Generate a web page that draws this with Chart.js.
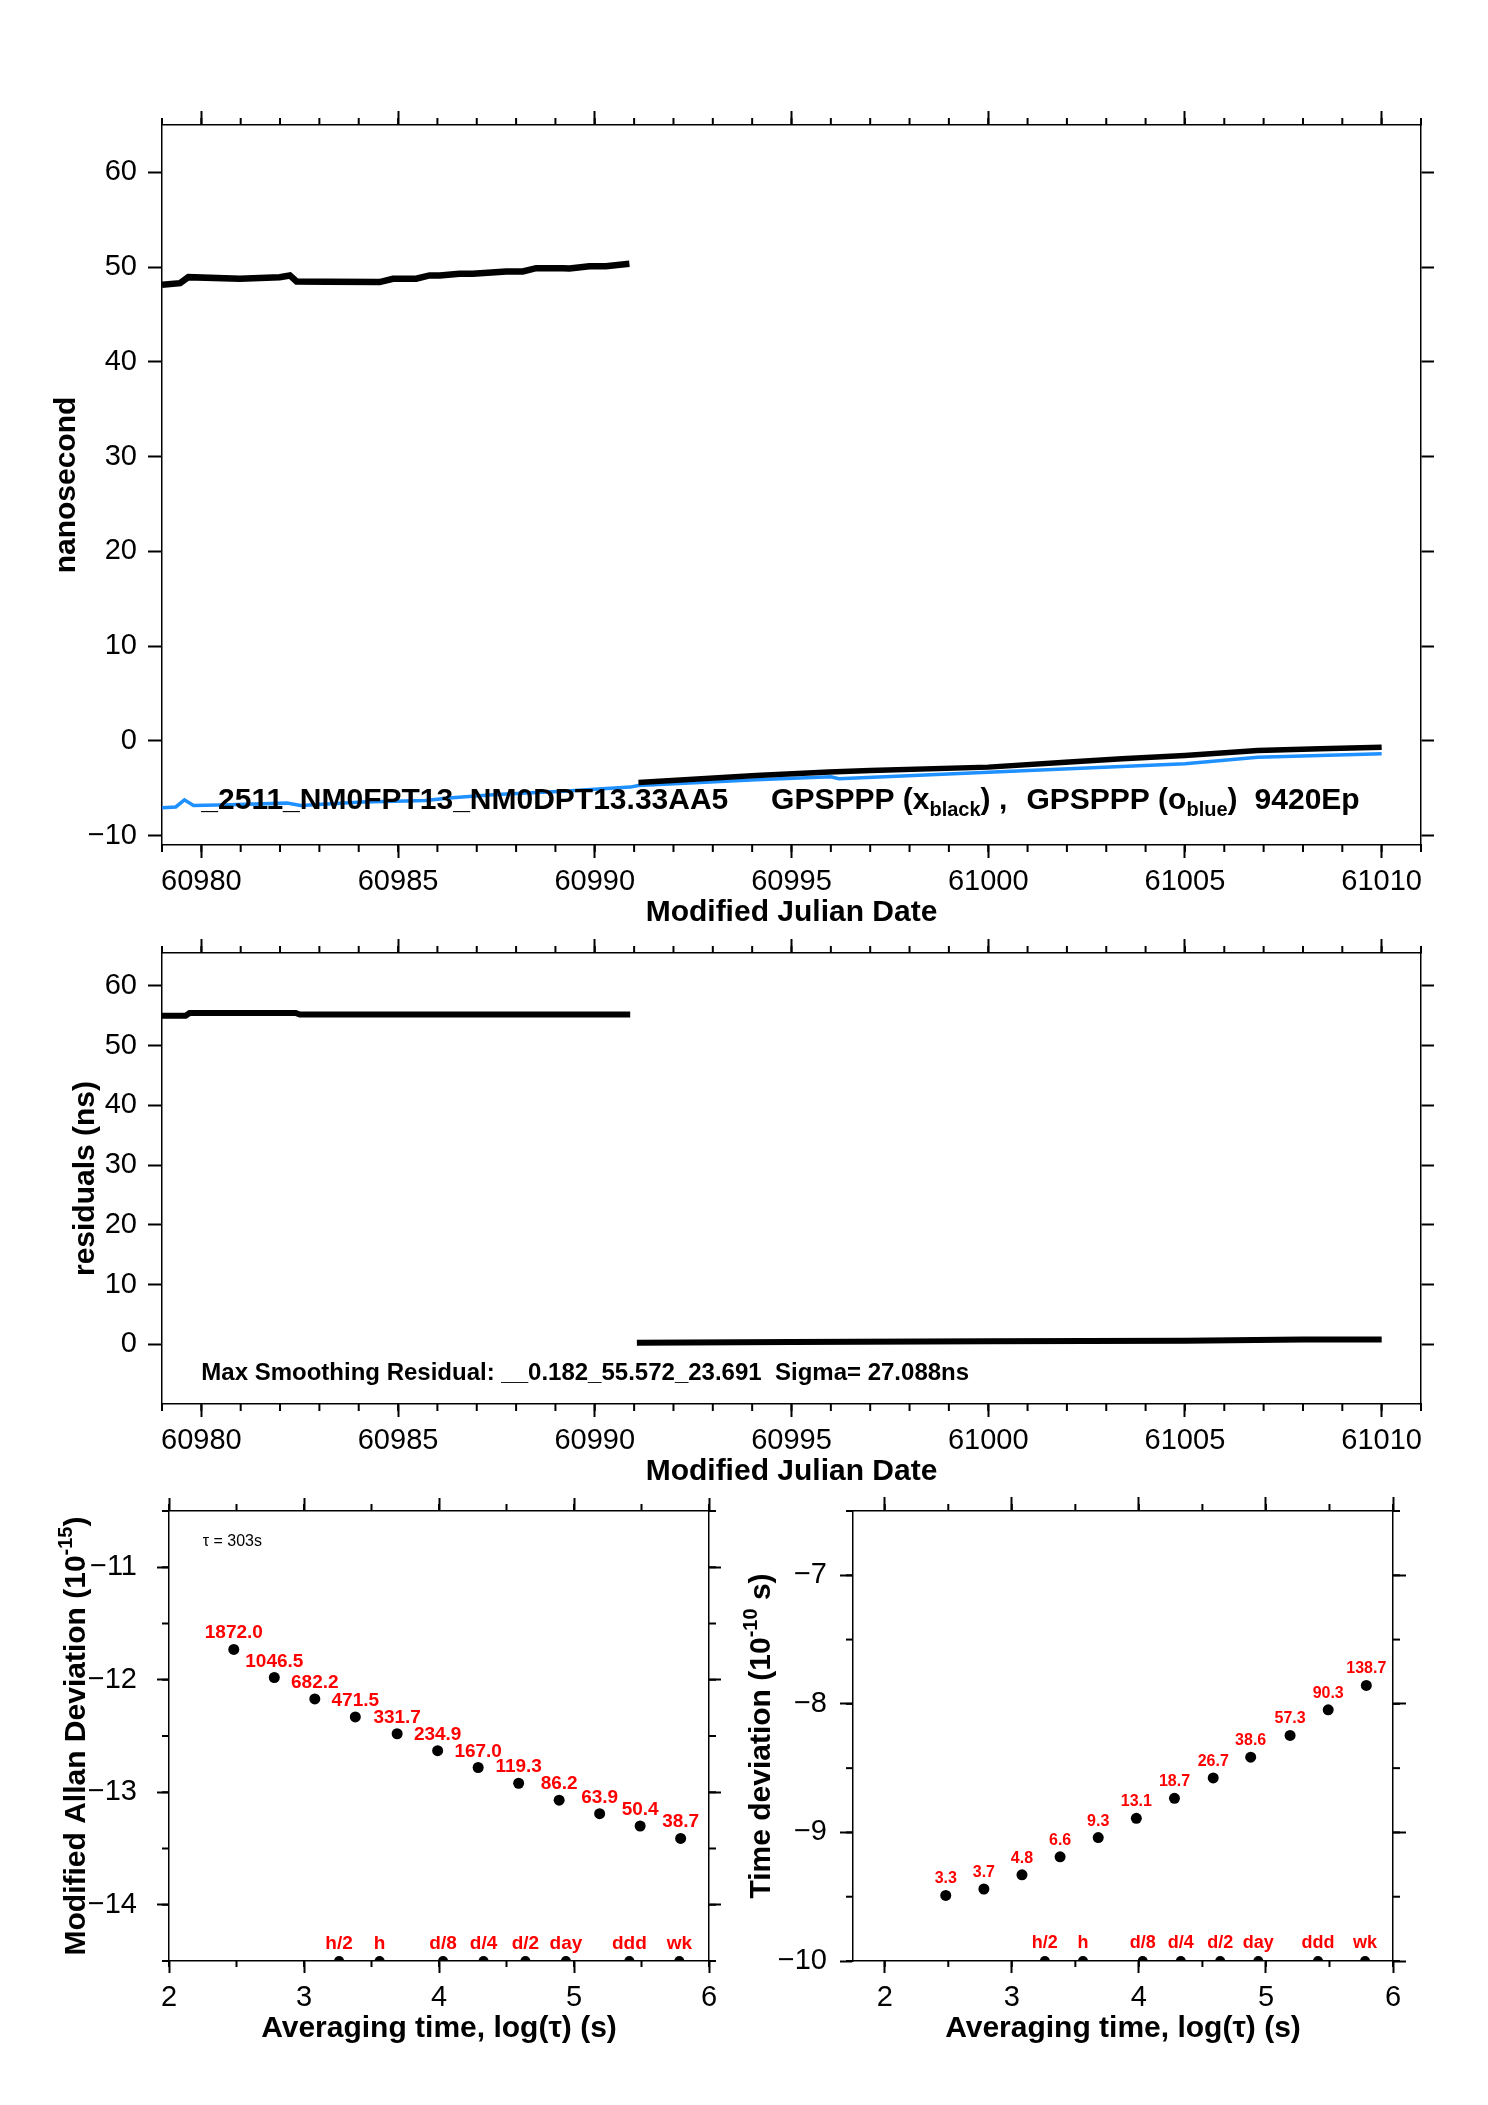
<!DOCTYPE html>
<html>
<head>
<meta charset="utf-8">
<title>GPSPPP 9420Ep</title>
<script src="https://cdn.jsdelivr.net/npm/chart.js@4.4.1/dist/chart.umd.min.js"></script>
<style>
  html, body { margin: 0; padding: 0; background: #fff; }
  #page { position: relative; width: 1488px; height: 2105px; background: #fff; }
  canvas { position: absolute; }
</style>
</head>
<body>
<div id="page">
  <canvas id="phase" width="1488" height="880" style="left:0;top:60px"></canvas>
  <canvas id="resid" width="1488" height="592" style="left:0;top:918px"></canvas>
  <canvas id="adev" width="740" height="619" style="left:0;top:1471px"></canvas>
  <canvas id="tdev" width="758" height="619" style="left:730px;top:1471px"></canvas>
</div>
<script>
const FONT = '"Liberation Sans", Arial, Helvetica, sans-serif';

// top panel: clock offsets (ns) against MJD
const phaseBlackMjdA = [60979.0, 60979.46, 60979.67, 60980.98, 60981.99, 60982.25, 60982.42, 60983.18, 60984.53, 60984.87, 60985.46, 60985.8, 60986.06, 60986.56, 60986.9, 60987.75, 60988.17, 60988.51, 60989.19, 60989.36, 60989.86, 60990.28, 60990.88];
const phaseBlackNsA  = [48.13, 48.31, 48.94, 48.77, 48.94, 49.12, 48.49, 48.45, 48.42, 48.77, 48.77, 49.12, 49.12, 49.3, 49.3, 49.54, 49.54, 49.89, 49.89, 49.85, 50.1, 50.1, 50.35];
const phaseBlackMjdB = [60991.11, 60994.1, 60995.95, 60997.0, 61000.0, 61002.06, 61003.4, 61005.0, 61006.85, 61008.43, 61010.0];
const phaseBlackNsB  = [-4.4, -3.66, -3.3, -3.13, -2.78, -2.25, -1.9, -1.55, -1.02, -0.85, -0.67];
const phaseBlueMjd = [60979.0, 60979.35, 60979.57, 60979.8, 60980.7, 60982.18, 60982.52, 60984.1, 60985.7, 60986.37, 60987.5, 60989.2, 60990.9, 60991.11, 60994.1, 60996.0, 60996.2, 60998.1, 61000.0, 61002.06, 61005.0, 61006.85, 61008.43, 61010.0];
const phaseBlueNs  = [-7.07, -6.98, -6.23, -6.83, -6.76, -6.58, -6.83, -6.47, -6.3, -6.02, -5.67, -5.32, -4.89, -4.72, -4.12, -3.8, -4.0, -3.66, -3.31, -2.96, -2.43, -1.73, -1.55, -1.37];

// middle panel: smoothing residuals (ns)
const residMjdA = [60979.0, 60979.6, 60979.7, 60982.4, 60982.5, 60990.9];
const residNsA  = [55.0, 55.0, 55.45, 55.45, 55.2, 55.2];
const residMjdB = [60991.07, 60995.0, 61000.0, 61005.0, 61008.0, 61010.0];
const residNsB  = [0.27, 0.4, 0.5, 0.6, 0.8, 0.8];

// bottom panels: log10(tau) against log10(mod. Allan dev) and log10(time dev)
const adevLogTau = [2.48, 2.78, 3.08, 3.38, 3.69, 3.99, 4.29, 4.59, 4.89, 5.19, 5.49, 5.79];
const adevLog    = [-11.73, -11.98, -12.17, -12.33, -12.48, -12.63, -12.78, -12.92, -13.07, -13.19, -13.3, -13.41];
const adevLabels = ['1872.0', '1046.5', '682.2', '471.5', '331.7', '234.9', '167.0', '119.3', '86.2', '63.9', '50.4', '38.7'];
const tdevLogTau = [2.48, 2.78, 3.08, 3.38, 3.68, 3.98, 4.28, 4.585, 4.88, 5.19, 5.49, 5.79];
const tdevLog    = [-9.49, -9.44, -9.33, -9.19, -9.04, -8.89, -8.735, -8.576, -8.415, -8.246, -8.046, -7.857];
const tdevLabels = ['3.3', '3.7', '4.8', '6.6', '9.3', '13.1', '18.7', '26.7', '38.6', '57.3', '90.3', '138.7'];
const markLogTau = [3.26, 3.56, 4.03, 4.33, 4.64, 4.94, 5.41, 5.78];
const markLabels = ['h/2', 'h', 'd/8', 'd/4', 'd/2', 'day', 'ddd', 'wk'];

// axes
const mjdRange = [60979, 61011];
const mjdTicks = [60980, 60985, 60990, 60995, 61000, 61005, 61010];
const phaseRange = [-11, 65];
const phaseTicks = [-10, 0, 10, 20, 30, 40, 50, 60];
const residRange = [-10, 65.5];
const residTicks = [0, 10, 20, 30, 40, 50, 60];
const adevTauRange = [2, 6];
const tdevTauRange = [1.75, 6];
const tauTicks = [2, 3, 4, 5, 6];
const adevRange = [-14.5, -10.5];
const adevTicks = [-14, -13, -12, -11];
const tdevRange = [-10, -6.5];
const tdevTicks = [-10, -9, -8, -7];

function pts(xs, ys) {
    return xs.map((x, i) => ({ x: x, y: ys[i] }));
}

function axis(pos, range, ticks, size, tickLen, labels, title) {
    const horiz = pos === 'top' || pos === 'bottom';
    return {
        type: 'linear',
        position: pos,
        min: range[0],
        max: range[1],
        afterBuildTicks: s => { s.ticks = ticks.map(v => ({ value: v })); },
        afterFit: s => { if (horiz) s.height = size; else s.width = size; },
        border: { display: true, color: '#000', width: 1.5 },
        grid: { drawOnChartArea: false, drawTicks: true, tickLength: tickLen, tickWidth: 2, tickColor: '#000' },
        ticks: {
            display: !!labels,
            autoSkip: false,
            maxRotation: 0,
            padding: labels ? labels.pad : 0,
            color: '#000',
            font: { family: FONT, size: 29 },
            callback: v => String(v).replace('-', '\u2212')
        },
        title: title ? {
            display: true,
            text: title.text,
            color: '#000',
            font: { family: FONT, size: 30, weight: 'bold' },
            padding: title.pad
        } : { display: false }
    };
}

function drawRich(ctx, parts, x, y, size, weight, color, align) {
    const fontOf = p => weight + ' ' + (p.sub || p.sup ? Math.round(size * 0.65) : size) + 'px ' + FONT;
    let total = 0;
    parts.forEach(p => { ctx.font = fontOf(p); total += ctx.measureText(p.t).width; });
    let cx = align === 'center' ? x - total / 2 : x;
    ctx.fillStyle = color;
    ctx.textAlign = 'left';
    ctx.textBaseline = 'alphabetic';
    parts.forEach(p => {
        ctx.font = fontOf(p);
        const dy = p.sub ? size * 0.24 : (p.sup ? -size * 0.42 : 0);
        ctx.fillText(p.t, cx, y + dy);
        cx += ctx.measureText(p.t).width;
    });
}

// minor ticks, labels next to points, free text and rotated titles
function annotations(cfg) {
    return {
        id: 'annotations',
        afterDatasetsDraw(chart) {
            const ctx = chart.ctx;
            const area = chart.chartArea;
            ctx.save();
            ctx.strokeStyle = '#000';
            ctx.lineWidth = 2;
            (cfg.minor || []).forEach(([id, step, len]) => {
                const s = chart.scales[id];
                for (let k = Math.ceil(s.min / step - 1e-9); k * step <= s.max + 1e-9; k++) {
                    const p = s.getPixelForValue(k * step);
                    ctx.beginPath();
                    if (s.position === 'bottom') { ctx.moveTo(p, area.bottom); ctx.lineTo(p, area.bottom + len); }
                    if (s.position === 'top') { ctx.moveTo(p, area.top); ctx.lineTo(p, area.top - len); }
                    if (s.position === 'left') { ctx.moveTo(area.left, p); ctx.lineTo(area.left - len, p); }
                    if (s.position === 'right') { ctx.moveTo(area.right, p); ctx.lineTo(area.right + len, p); }
                    ctx.stroke();
                }
            });
            (cfg.pointLabels || []).forEach(pl => {
                ctx.font = pl.font;
                ctx.fillStyle = '#ff0000';
                ctx.textAlign = 'center';
                ctx.textBaseline = 'alphabetic';
                chart.getDatasetMeta(pl.dataset).data.forEach((pt, i) => {
                    ctx.fillText(pl.labels[i], pt.x, pt.y - pl.rise);
                });
            });
            (cfg.texts || []).forEach(t => {
                const x = chart.scales.x.getPixelForValue(t.x);
                const y = chart.scales.y.getPixelForValue(t.y);
                drawRich(ctx, t.parts, x, y, t.size, t.weight, '#000', 'left');
            });
            if (cfg.yTitle) {
                ctx.translate(cfg.yTitle.x, (area.top + area.bottom) / 2);
                ctx.rotate(-Math.PI / 2);
                drawRich(ctx, cfg.yTitle.parts, 0, cfg.yTitle.size * 0.36, cfg.yTitle.size, 'bold', '#000', 'center');
            }
            ctx.restore();
        }
    };
}

const common = {
    responsive: false,
    animation: false,
    devicePixelRatio: 1,
    events: [],
    layout: { padding: 0 }
};
const noLegend = { legend: { display: false }, tooltip: { enabled: false } };

new Chart(document.getElementById('phase'), {
    type: 'line',
    data: {
        datasets: [
            { data: pts(phaseBlackMjdA, phaseBlackNsA), borderColor: '#000', borderWidth: 6.5, pointRadius: 0 },
            { data: pts(phaseBlackMjdB, phaseBlackNsB), borderColor: '#000', borderWidth: 5.5, pointRadius: 0 },
            { data: pts(phaseBlueMjd, phaseBlueNs), borderColor: '#1e90ff', borderWidth: 3.5, pointRadius: 0 }
        ]
    },
    options: Object.assign({}, common, {
        elements: { line: { tension: 0 } },
        scales: {
            x: axis('bottom', mjdRange, mjdTicks, 95, 13, { pad: 7 }, { text: 'Modified Julian Date', pad: { top: 0, bottom: 9 } }),
            x2: axis('top', mjdRange, mjdTicks, 65, 14),
            y: axis('left', phaseRange, phaseTicks, 162, 14, { pad: 11 }, { text: 'nanosecond', pad: { top: 49, bottom: 0 } }),
            y2: axis('right', phaseRange, phaseTicks, 67, 13)
        },
        plugins: noLegend
    }),
    plugins: [annotations({
        minor: [['x', 1, 7], ['x2', 1, 7]],
        texts: [
            { x: 60980, y: -7.15, size: 30, weight: 'bold', parts: [{ t: '_2511_NM0FPT13_NM0DPT13.33AA5' }] },
            { x: 60994.48, y: -7.15, size: 30, weight: 'bold', parts: [{ t: 'GPSPPP (x' }, { t: 'black', sub: true }, { t: ') ,' }] },
            { x: 61000.97, y: -7.15, size: 30, weight: 'bold', parts: [{ t: 'GPSPPP (o' }, { t: 'blue', sub: true }, { t: ')' }] },
            { x: 61006.77, y: -7.15, size: 30, weight: 'bold', parts: [{ t: '9420Ep' }] }
        ]
    })]
});

new Chart(document.getElementById('resid'), {
    type: 'line',
    data: {
        datasets: [
            { data: pts(residMjdA, residNsA), borderColor: '#000', borderWidth: 6, pointRadius: 0 },
            { data: pts(residMjdB, residNsB), borderColor: '#000', borderWidth: 6, pointRadius: 0 }
        ]
    },
    options: Object.assign({}, common, {
        elements: { line: { tension: 0 } },
        scales: {
            x: axis('bottom', mjdRange, mjdTicks, 106, 13, { pad: 7 }, { text: 'Modified Julian Date', pad: { top: 0, bottom: 20 } }),
            x2: axis('top', mjdRange, mjdTicks, 35, 14),
            y: axis('left', residRange, residTicks, 162, 14, { pad: 11 }, { text: 'residuals (ns)', pad: { top: 68, bottom: 0 } }),
            y2: axis('right', residRange, residTicks, 67, 13)
        },
        plugins: noLegend
    }),
    plugins: [annotations({
        minor: [['x', 1, 7], ['x2', 1, 7]],
        texts: [
            { x: 60980, y: -6, size: 24, weight: 'bold', parts: [{ t: 'Max Smoothing Residual: __0.182_55.572_23.691  Sigma= 27.088ns' }] }
        ]
    })]
});

new Chart(document.getElementById('adev'), {
    type: 'scatter',
    data: {
        datasets: [
            { data: pts(adevLogTau, adevLog), backgroundColor: '#000', borderWidth: 0, pointRadius: 5.5 },
            { data: markLogTau.map(x => ({ x: x, y: adevRange[0] })), backgroundColor: '#000', borderWidth: 0, pointRadius: 5 }
        ]
    },
    options: Object.assign({}, common, {
        scales: {
            x: axis('bottom', adevTauRange, tauTicks, 129, 12, { pad: 8 }, { text: 'Averaging time, log(\u03c4) (s)', pad: { top: 0, bottom: 43 } }),
            x2: axis('top', adevTauRange, tauTicks, 40, 13),
            y: axis('left', adevRange, adevTicks, 169, 12, { pad: 20 }),
            y2: axis('right', adevRange, adevTicks, 31, 12)
        },
        plugins: noLegend
    }),
    plugins: [annotations({
        minor: [['x', 0.5, 6], ['x2', 0.5, 7], ['y', 0.5, 7], ['y2', 0.5, 7]],
        pointLabels: [
            { dataset: 0, labels: adevLabels, font: 'bold 19px ' + FONT, rise: 11 },
            { dataset: 1, labels: markLabels, font: 'bold 19px ' + FONT, rise: 12 }
        ],
        texts: [
            { x: 2.25, y: -10.81, size: 16, weight: 'normal', parts: [{ t: '\u03c4 = 303s' }] }
        ],
        yTitle: { x: 74, size: 30, parts: [{ t: 'Modified Allan Deviation (10' }, { t: '-15', sup: true }, { t: ')' }] }
    })]
});

new Chart(document.getElementById('tdev'), {
    type: 'scatter',
    data: {
        datasets: [
            { data: pts(tdevLogTau, tdevLog), backgroundColor: '#000', borderWidth: 0, pointRadius: 5.5 },
            { data: markLogTau.map(x => ({ x: x, y: tdevRange[0] })), backgroundColor: '#000', borderWidth: 0, pointRadius: 5 }
        ]
    },
    options: Object.assign({}, common, {
        scales: {
            x: axis('bottom', tdevTauRange, tauTicks, 129, 12, { pad: 8 }, { text: 'Averaging time, log(\u03c4) (s)', pad: { top: 0, bottom: 43 } }),
            x2: axis('top', tdevTauRange, tauTicks, 40, 14),
            y: axis('left', tdevRange, tdevTicks, 123, 13, { pad: 13 }),
            y2: axis('right', tdevRange, tdevTicks, 95, 13)
        },
        plugins: noLegend
    }),
    plugins: [annotations({
        minor: [['x', 0.5, 6], ['x2', 0.5, 7], ['y', 0.5, 7], ['y2', 0.5, 7]],
        pointLabels: [
            { dataset: 0, labels: tdevLabels, font: 'bold 16px ' + FONT, rise: 12 },
            { dataset: 1, labels: markLabels, font: 'bold 18px ' + FONT, rise: 13 }
        ],
        yTitle: { x: 29, size: 30, parts: [{ t: 'Time deviation (10' }, { t: '-10', sup: true }, { t: ' s)' }] }
    })]
});
</script>
</body>
</html>
